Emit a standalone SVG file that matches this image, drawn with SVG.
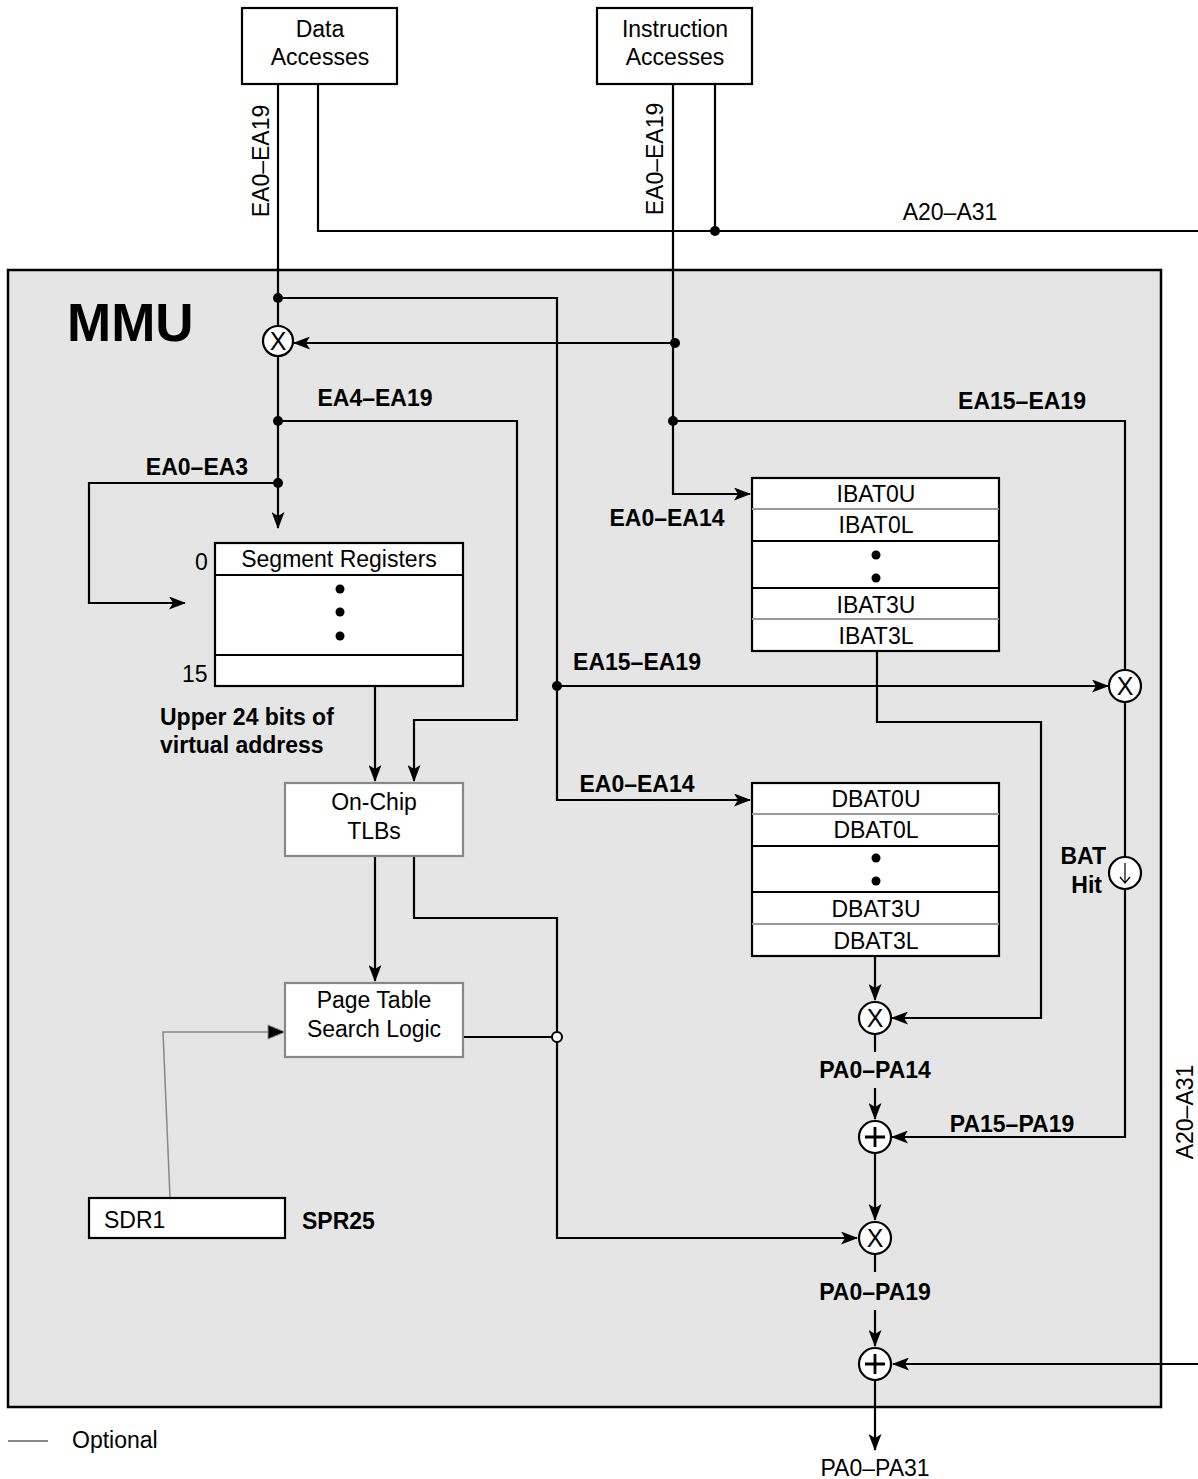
<svg xmlns="http://www.w3.org/2000/svg" width="1198" height="1479" viewBox="0 0 1198 1479">
<defs>
<marker id="ah" markerUnits="userSpaceOnUse" markerWidth="17" markerHeight="13" refX="16" refY="6.5" orient="auto">
<path d="M0,0 L17,6.5 L0,13 L4,6.5 Z" fill="#000"/>
</marker>
</defs>
<style>
.w{fill:none;stroke:#000;stroke-width:2.2}
.g{fill:none;stroke:#888;stroke-width:1.5}
.box{fill:#fff;stroke:#000;stroke-width:2.2}
.gbox{fill:#fff;stroke:#888;stroke-width:2.2}
.t{font-family:"Liberation Sans",Arial,sans-serif;font-size:23px;fill:#000}
.b{font-family:"Liberation Sans",Arial,sans-serif;font-size:23px;font-weight:bold;fill:#000}
.c{text-anchor:middle}
.x{font-family:"Liberation Sans",Arial,sans-serif;font-size:25px;fill:#000;text-anchor:middle}
.circ{fill:#fff;stroke:#000;stroke-width:2.2}
.dot{fill:#000}
.odot{fill:#fff;stroke:#000;stroke-width:2}
.sep{stroke:#000;stroke-width:2.2}
.gsep{stroke:#999;stroke-width:2}
</style>

<rect id="mmu" x="8" y="270" width="1153" height="1137" fill="#e5e5e5" stroke="#000" stroke-width="2.5"/>
<text class="b" x="67" y="341" style="font-size:53px">MMU</text>

<g id="connectors">
<path class="w" d="M278,84 V528" marker-end="url(#ah)"/>
<path class="w" d="M318,84 V231 H1198"/>
<path class="w" d="M715,84 V231"/>
<path class="w" d="M673,84 V494 H750" marker-end="url(#ah)"/>
<path class="w" d="M278,298 H557 V800 H750" marker-end="url(#ah)"/>
<path class="w" d="M675,343 H294" marker-end="url(#ah)"/>
<path class="w" d="M278,421 H517 V720 H414 V781" marker-end="url(#ah)"/>
<path class="w" d="M278,483 H89 V603 H185" marker-end="url(#ah)"/>
<path class="w" d="M375,686 V781" marker-end="url(#ah)"/>
<path class="w" d="M673,421 H1125 V670"/>
<path class="w" d="M557,686 H1108" marker-end="url(#ah)"/>
<path class="w" d="M1125,702 V857"/>
<path class="w" d="M1125,889 V1137 H892" marker-end="url(#ah)"/>
<path class="w" d="M877,651 V722 H1041 V1018 H892" marker-end="url(#ah)"/>
<path class="w" d="M875,956 V1000" marker-end="url(#ah)"/>
<path class="w" d="M875,1034 V1052"/>
<path class="w" d="M875,1088 V1119" marker-end="url(#ah)"/>
<path class="w" d="M875,1153 V1220" marker-end="url(#ah)"/>
<path class="w" d="M875,1254 V1272"/>
<path class="w" d="M875,1310 V1346" marker-end="url(#ah)"/>
<path class="w" d="M1198,1364 H893" marker-end="url(#ah)"/>
<path class="w" d="M875,1380 V1450" marker-end="url(#ah)"/>
<path class="w" d="M375,856 V981" marker-end="url(#ah)"/>
<path class="w" d="M414,856 V918 H557 V1238 H857" marker-end="url(#ah)"/>
<path class="w" d="M463,1037 H553"/>
<path class="g" d="M170,1198 L163,1032 H268"/>
<path d="M268,1025 L285,1032 L268,1039 Z" fill="#000" stroke="#888" stroke-width="1"/>
<circle class="dot" cx="278" cy="298" r="5"/>
<circle class="dot" cx="278" cy="421" r="5"/>
<circle class="dot" cx="278" cy="483" r="5"/>
<circle class="dot" cx="675" cy="343" r="5"/>
<circle class="dot" cx="673" cy="421" r="5"/>
<circle class="dot" cx="715" cy="231" r="5"/>
<circle class="dot" cx="557" cy="686" r="5"/>
<circle class="odot" cx="557" cy="1037" r="5"/>
</g>

<g id="data-accesses">
<rect class="box" x="242" y="8" width="155" height="76"/>
<text class="t c" x="320" y="37">Data</text>
<text class="t c" x="320" y="65">Accesses</text>
</g>
<g id="instruction-accesses">
<rect class="box" x="597" y="8" width="155" height="76"/>
<text class="t c" x="675" y="37">Instruction</text>
<text class="t c" x="675" y="65">Accesses</text>
</g>

<g id="bus-labels">
<text class="t c" transform="translate(269,161) rotate(-90)">EA0–EA19</text>
<text class="t c" transform="translate(663,159) rotate(-90)">EA0–EA19</text>
<text class="t c" x="950" y="220">A20–A31</text>
<text class="t c" transform="translate(1193,1112) rotate(-90)">A20–A31</text>
<text class="b c" x="375" y="406">EA4–EA19</text>
<text class="b c" x="197" y="475">EA0–EA3</text>
<text class="b c" x="1022" y="409">EA15–EA19</text>
<text class="b c" x="667" y="526">EA0–EA14</text>
<text class="b c" x="637" y="670">EA15–EA19</text>
<text class="b c" x="637" y="792">EA0–EA14</text>
<text class="b" x="160" y="725">Upper 24 bits of</text>
<text class="b" x="160" y="753">virtual address</text>
<text class="b c" x="875" y="1078">PA0–PA14</text>
<text class="b c" x="1012" y="1132">PA15–PA19</text>
<text class="b c" x="875" y="1300">PA0–PA19</text>
<text class="t c" x="875" y="1476">PA0–PA31</text>
</g>

<g id="mult-data">
<circle class="circ" cx="278" cy="341" r="15"/>
<text class="x" x="278" y="350">X</text>
</g>

<g id="segment-registers">
<rect class="box" x="215" y="543" width="248" height="143"/>
<line class="sep" x1="215" y1="575" x2="463" y2="575"/>
<line class="sep" x1="215" y1="655" x2="463" y2="655"/>
<text class="t c" x="339" y="567">Segment Registers</text>
<circle class="dot" cx="340" cy="589" r="4.5"/>
<circle class="dot" cx="340" cy="612" r="4.5"/>
<circle class="dot" cx="340" cy="636" r="4.5"/>
<text class="t" x="195" y="570">0</text>
<text class="t" x="182" y="682">15</text>
</g>

<g id="tlbs">
<rect class="gbox" x="285" y="783" width="178" height="73"/>
<text class="t c" x="374" y="810">On-Chip</text>
<text class="t c" x="374" y="839">TLBs</text>
</g>

<g id="page-table">
<rect class="gbox" x="285" y="983" width="178" height="74"/>
<text class="t c" x="374" y="1008">Page Table</text>
<text class="t c" x="374" y="1037">Search Logic</text>
</g>

<g id="sdr1">
<rect class="box" x="89" y="1198" width="196" height="40"/>
<text class="t" x="104" y="1228">SDR1</text>
<text class="b" x="302" y="1229">SPR25</text>
</g>

<g id="ibat">
<rect class="box" x="752" y="478" width="247" height="173"/>
<line class="gsep" x1="752" y1="509" x2="999" y2="509"/>
<line class="sep" x1="752" y1="541" x2="999" y2="541"/>
<line class="sep" x1="752" y1="588" x2="999" y2="588"/>
<line class="gsep" x1="752" y1="619" x2="999" y2="619"/>
<text class="t c" x="876" y="502">IBAT0U</text>
<text class="t c" x="876" y="533">IBAT0L</text>
<circle class="dot" cx="876" cy="555" r="4.5"/>
<circle class="dot" cx="876" cy="578" r="4.5"/>
<text class="t c" x="876" y="613">IBAT3U</text>
<text class="t c" x="876" y="644">IBAT3L</text>
</g>

<g id="dbat">
<rect class="box" x="752" y="783" width="247" height="173"/>
<line class="gsep" x1="752" y1="814" x2="999" y2="814"/>
<line class="sep" x1="752" y1="846" x2="999" y2="846"/>
<line class="sep" x1="752" y1="892" x2="999" y2="892"/>
<line class="gsep" x1="752" y1="924" x2="999" y2="924"/>
<text class="t c" x="876" y="807">DBAT0U</text>
<text class="t c" x="876" y="838">DBAT0L</text>
<circle class="dot" cx="876" cy="858" r="4.5"/>
<circle class="dot" cx="876" cy="881" r="4.5"/>
<text class="t c" x="876" y="917">DBAT3U</text>
<text class="t c" x="876" y="949">DBAT3L</text>
</g>

<g id="mult-ea15">
<circle class="circ" cx="1125" cy="686" r="16"/>
<text class="x" x="1125" y="695">X</text>
</g>

<g id="bat-hit">
<circle class="circ" cx="1125" cy="873" r="16"/>
<path d="M1125,863 V883 M1120,877 L1125,883 L1130,877" fill="none" stroke="#000" stroke-width="1.2"/>
<text class="b" x="1106" y="864" text-anchor="end">BAT</text>
<text class="b" x="1102" y="893" text-anchor="end">Hit</text>
</g>

<g id="mult-bat">
<circle class="circ" cx="875" cy="1018" r="16"/>
<text class="x" x="875" y="1027">X</text>
</g>

<g id="add-pa15">
<circle class="circ" cx="875" cy="1137" r="16"/>
<path d="M865,1137 H885 M875,1127 V1147" stroke="#000" stroke-width="2.8"/>
</g>

<g id="mult-pa">
<circle class="circ" cx="875" cy="1238" r="16"/>
<text class="x" x="875" y="1247">X</text>
</g>

<g id="add-final">
<circle class="circ" cx="875" cy="1364" r="16"/>
<path d="M865,1364 H885 M875,1354 V1374" stroke="#000" stroke-width="2.8"/>
</g>

<g id="legend">
<line x1="8" y1="1441" x2="48" y2="1441" stroke="#888" stroke-width="2"/>
<text class="t" x="72" y="1448">Optional</text>
</g>
</svg>
